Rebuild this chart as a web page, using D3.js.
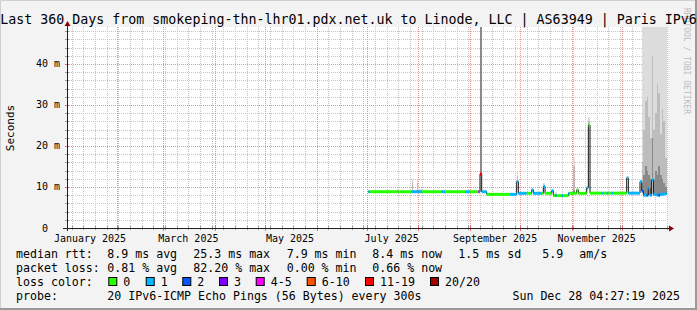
<!DOCTYPE html>
<meta charset="utf-8">
<style>
  html, body { margin: 0; padding: 0; background: #f3f3f3; overflow: hidden; }
  svg { display: block; font-family: "DejaVu Sans Mono", monospace; }
  .title { font-size: 13.3px; fill: #000; }
  .tick-label { font-size: 10px; fill: #000; }
  .legend { font-size: 11.6px; fill: #000; }
  .grid-minor { stroke: #c4c4c4; stroke-dasharray: 1,1; shape-rendering: crispEdges; }
  .grid-major { stroke: #eb9090; stroke-dasharray: 1,1; shape-rendering: crispEdges; }
  .smoke { shape-rendering: crispEdges; }
</style>
<svg></svg>
<script src="https://d3js.org/d3.v7.min.js"></script>
<script>

var W = 697, H = 310;
var plot = {left: 67, right: 667, top: 28, bottom: 228};

// one sample per breakpoint, each value holds until the next date
var sampleDates = [
  "2025-07-02","2025-07-03","2025-07-19","2025-07-20","2025-07-22","2025-07-23",
  "2025-07-28","2025-07-29","2025-07-31","2025-08-01","2025-08-03","2025-08-15",
  "2025-08-17","2025-08-29","2025-09-01","2025-09-06","2025-09-07","2025-09-08",
  "2025-09-11","2025-09-25","2025-09-29","2025-09-30","2025-10-05","2025-10-08",
  "2025-10-09","2025-10-14","2025-10-15","2025-10-16","2025-10-20","2025-10-21",
  "2025-10-22","2025-10-23","2025-10-26","2025-10-27","2025-10-30","2025-10-31",
  "2025-11-02","2025-11-03","2025-11-04","2025-11-05","2025-11-10","2025-11-11",
  "2025-11-12","2025-11-19","2025-11-20","2025-11-22","2025-11-23","2025-11-25",
  "2025-11-26","2025-12-04","2025-12-05","2025-12-12","2025-12-13","2025-12-14",
  "2025-12-15","2025-12-16","2025-12-17","2025-12-18","2025-12-19","2025-12-20",
  "2025-12-21","2025-12-22","2025-12-23","2025-12-24","2025-12-25","2025-12-26",
  "2025-12-27"
];
var dataEnd = "2025-12-28";

var medianMs = [
  8.85, 8.85, 8.85, 8.85, 8.85, 8.85,
  8.85, 8.85, 8.85, 8.85, 8.85, 8.85,
  8.85, 8.85, 8.85, 8.85, 13.2, 8.85,
  8.2, 8.2, 11.3, 8.46, 8.46, 9.3,
  8.46, 8.46, 10.1, 8.46, 9.1, 7.9,
  7.9, 7.9, 7.9, 7.9, 8.46, 8.46,
  8.46, 8.46, 9.3, 8.46, 9.8, 25.1,
  8.5, 8.5, 8.5, 8.5, 8.5, 8.5,
  8.5, 12.2, 8.5, 11.3, 9.0, 8.0,
  8.0, 8.0, 9.7, 8.0, 11.7, 8.2,
  8.2, 8.0, 8.0, 8.2, 8.2, 8.3,
  8.4
];

// index into lossColors
var lossBucket = [
  1, 0, 0, 0, 0, 0,
  1, 1, 1, 1, 0, 1,
  0, 1, 0, 4, 6, 1,
  0, 1, 1, 1, 0, 1,
  1, 0, 1, 0, 1, 0,
  1, 0, 1, 0, 1, 0,
  0, 0, 0, 0, 1, 0,
  0, 1, 0, 1, 0, 1,
  0, 1, 1, 1, 2, 1,
  1, 2, 1, 1, 1, 1,
  1, 1, 2, 1, 1, 1,
  1
];

var smokeOuterMs = [
  9.1, 9.1, 9.6, 9.1, 9.5, 9.1,
  12.0, 9.2, 11.8, 9.5, 9.1, 9.1,
  9.1, 9.1, 9.1, 9.3, 50, 9.1,
  8.4, 8.4, 13.7, 8.7, 8.7, 9.7,
  8.7, 8.7, 11.0, 8.7, 9.3, 8.1,
  8.8, 8.1, 8.8, 8.1, 8.7, 8.7,
  17.4, 8.7, 9.5, 8.7, 10.1, 27.1,
  8.7, 8.7, 8.7, 8.7, 8.7, 8.7,
  8.7, 12.8, 8.7, 11.7, 50, 50,
  50, 50, 50, 50, 50, 50,
  50, 50, 50, 50, 50, 50,
  50
];

var smokeMidMs = [
  9.0, 9.0, 9.2, 9.0, 9.1, 9.0,
  11.4, 9.0, 11.0, 9.2, 9.0, 9.0,
  9.0, 9.0, 9.0, 9.1, 50, 9.0,
  8.3, 8.3, 12.6, 8.6, 8.6, 9.5,
  8.6, 8.6, 10.5, 8.6, 9.2, 8.0,
  8.3, 8.0, 8.3, 8.0, 8.6, 8.6,
  15.0, 8.6, 9.4, 8.6, 9.9, 26.2,
  8.6, 8.6, 8.6, 8.6, 8.6, 8.6,
  8.6, 12.5, 8.6, 11.5, 16, 24,
  31, 32, 27, 22, 42, 24,
  28, 35, 33, 23, 29, 26,
  17
];

var smokeInnerMs = [
  8.85, 8.85, 8.85, 8.85, 8.85, 8.85,
  9.2, 8.85, 9.2, 8.85, 8.85, 8.85,
  8.85, 8.85, 8.85, 8.85, 50, 8.85,
  8.2, 8.2, 11.6, 8.46, 8.46, 9.3,
  8.46, 8.46, 10.1, 8.46, 9.1, 7.9,
  7.9, 7.9, 7.9, 7.9, 8.46, 8.46,
  9.2, 8.46, 9.3, 8.46, 9.8, 25.4,
  8.5, 8.5, 8.5, 8.5, 8.5, 8.5,
  8.5, 12.2, 8.5, 11.3, 11, 13,
  15, 14, 13, 12, 22, 12,
  14, 13, 15, 13, 12, 11,
  10
];

var lossLabels = ["0", "1", "2", "3", "4-5", "6-10", "11-19", "20/20"];
var lossColors = ["#26ff00", "#00b8ff", "#0059ff", "#7e00ff", "#ff00ff", "#ff5500", "#ff0000", "#a10000"];

var monthLabels = ["January 2025", "March 2025", "May 2025", "July 2025", "September 2025", "November 2025"];
var monthLabelStarts = ["2025-01-01", "2025-03-01", "2025-05-01", "2025-07-01", "2025-09-01", "2025-11-01"];
var yTickValues = [0, 10, 20, 30, 40];

var rttStats = ["8.9 ms avg", "25.3 ms max", "7.9 ms min", "8.4 ms now", "1.5 ms sd", "5.9", "am/s"];
var lossStats = ["0.81 % avg", "82.20 % max", "0.00 % min", "0.66 % now"];
var probeText = "20 IPv6-ICMP Echo Pings (56 Bytes) every 300s";
var stampText = "Sun Dec 28 04:27:19 2025";
var titleText = "Last 360 Days from smokeping-thn-lhr01.pdx.net.uk to Linode, LLC | AS63949 | Paris IPv6";

var parse = d3.timeParse("%Y-%m-%d");
var dates = sampleDates.map(parse);
var endDate = parse(dataEnd);

var x = d3.scaleTime()
    .domain([new Date(2025, 0, 2, 4, 27, 19), new Date(2025, 11, 28, 4, 27, 19)])
    .range([plot.left, plot.right]);
var y = d3.scaleLinear().domain([0, 48.78]).range([plot.bottom, plot.top]);

var svg = d3.select("svg").attr("width", W).attr("height", H);

svg.append("rect").attr("width", W).attr("height", H).attr("fill", "#f3f3f3");
svg.append("path").attr("d", "M0.5,310V0.5H697").attr("fill", "none").attr("stroke", "#d0d0d0");
svg.append("path").attr("d", "M0,309H696V0").attr("fill", "none").attr("stroke", "#9a9a9a").attr("stroke-width", 2);

svg.append("rect")
    .attr("x", plot.left).attr("y", plot.top - 1)
    .attr("width", plot.right - plot.left + 1).attr("height", plot.bottom - plot.top + 1)
    .attr("fill", "#fff");

svg.append("clipPath").attr("id", "clip")
  .append("rect")
    .attr("x", plot.left).attr("y", plot.top - 1)
    .attr("width", plot.right - plot.left).attr("height", plot.bottom - plot.top + 1);

// grid
var grid = svg.append("g");
var weeks = d3.timeSunday.range(x.domain()[0], x.domain()[1]);
var months = d3.timeMonth.range(x.domain()[0], x.domain()[1]);
grid.selectAll(".vmin").data(weeks).enter().append("line")
    .attr("class", "grid-minor")
    .attr("x1", function(d) { return Math.round(x(d)) + 0.5; })
    .attr("x2", function(d) { return Math.round(x(d)) + 0.5; })
    .attr("y1", plot.top - 1).attr("y2", plot.bottom);
grid.selectAll(".hmin").data(d3.range(2, 49, 2).filter(function(v) { return v % 10; })).enter().append("line")
    .attr("class", "grid-minor")
    .attr("x1", plot.left).attr("x2", plot.right)
    .attr("y1", function(d) { return Math.round(y(d)) + 0.5; })
    .attr("y2", function(d) { return Math.round(y(d)) + 0.5; });
grid.selectAll(".vmaj").data(months).enter().append("line")
    .attr("class", "grid-major")
    .attr("x1", function(d) { return Math.round(x(d)) + 0.5; })
    .attr("x2", function(d) { return Math.round(x(d)) + 0.5; })
    .attr("y1", plot.top - 1).attr("y2", plot.bottom);
grid.selectAll(".hmaj").data(yTickValues.slice(1)).enter().append("line")
    .attr("class", "grid-major")
    .attr("x1", plot.left).attr("x2", plot.right)
    .attr("y1", function(d) { return Math.round(y(d)) + 0.5; })
    .attr("y2", function(d) { return Math.round(y(d)) + 0.5; });

// smoke
var samples = dates.map(function(d, i) {
  return {
    x0: x(d), x1: x(i < dates.length - 1 ? dates[i + 1] : endDate),
    med: medianMs[i], loss: lossBucket[i],
    bands: [smokeOuterMs[i], smokeMidMs[i], smokeInnerMs[i]]
  };
});
var smokeColors = ["#dcdcdc", "#bdbdbd", "#8a8a8a"];
var smoke = svg.append("g").attr("clip-path", "url(#clip)");
smokeColors.forEach(function(col, b) {
  smoke.selectAll(".s" + b)
      .data(samples.filter(function(s) { return s.bands[b] > s.med; }))
    .enter().append("rect")
      .attr("class", "smoke")
      .attr("x", function(s) { return s.x0; })
      .attr("width", function(s) { return s.x1 - s.x0; })
      .attr("y", function(s) { return y(s.bands[b]); })
      .attr("height", function(s) { return y(s.med) - y(s.bands[b]) + 1; })
      .attr("fill", col);
});

// median: thin black step line, loss-coloured segments on top
var stepPts = samples.map(function(s) { return [s.x0, y(s.med)]; });
stepPts.push([samples[samples.length - 1].x1, y(medianMs[medianMs.length - 1])]);
svg.append("path")
    .attr("d", d3.line().curve(d3.curveStepAfter)(stepPts))
    .attr("fill", "none").attr("stroke", "#111").attr("stroke-width", 1);
svg.append("g").selectAll("line").data(samples).enter().append("line")
    .attr("x1", function(s) { return s.x0; })
    .attr("x2", function(s) { return s.x1; })
    .attr("y1", function(s) { return y(s.med); })
    .attr("y2", function(s) { return y(s.med); })
    .attr("stroke", function(s) { return lossColors[s.loss]; })
    .attr("stroke-width", 3);

// axes
var axis = svg.append("g");
axis.selectAll(".xt").data(weeks).enter().append("line")
    .attr("x1", function(d) { return Math.round(x(d)) + 0.5; })
    .attr("x2", function(d) { return Math.round(x(d)) + 0.5; })
    .attr("y1", plot.bottom - 2).attr("y2", plot.bottom + 2)
    .attr("stroke", "#9a9a9a");
axis.selectAll(".xm").data(months).enter().append("line")
    .attr("x1", function(d) { return Math.round(x(d)) + 0.5; })
    .attr("x2", function(d) { return Math.round(x(d)) + 0.5; })
    .attr("y1", plot.bottom - 3).attr("y2", plot.bottom + 3)
    .attr("stroke", "#e07070");
axis.selectAll(".yt").data(d3.range(2, 49, 2)).enter().append("line")
    .attr("x1", plot.left - 2).attr("x2", plot.left + 2)
    .attr("y1", function(d) { return Math.round(y(d)) + 0.5; })
    .attr("y2", function(d) { return Math.round(y(d)) + 0.5; })
    .attr("stroke", function(d) { return d % 10 ? "#9a9a9a" : "#e07070"; });
axis.append("line")
    .attr("x1", plot.left - 4).attr("x2", plot.right + 3)
    .attr("y1", plot.bottom + 0.5).attr("y2", plot.bottom + 0.5)
    .attr("stroke", "#222");
axis.append("line")
    .attr("x1", plot.left + 0.5).attr("x2", plot.left + 0.5)
    .attr("y1", plot.top - 3).attr("y2", plot.bottom + 3)
    .attr("stroke", "#222");
axis.append("path")
    .attr("d", "M" + (plot.left - 2.5) + "," + (plot.top - 2) + "L" + (plot.left + 0.5) + "," + (plot.top - 7) +
               "L" + (plot.left + 3.5) + "," + (plot.top - 2) + "Z")
    .attr("fill", "#8b0000");
axis.append("path")
    .attr("d", "M" + (plot.right + 2) + "," + (plot.bottom - 2.5) + "L" + (plot.right + 7) + "," + (plot.bottom + 0.5) +
               "L" + (plot.right + 2) + "," + (plot.bottom + 3.5) + "Z")
    .attr("fill", "#8b0000");

// tick labels
svg.selectAll(".ylab").data(yTickValues).enter().append("text")
    .attr("class", "tick-label")
    .attr("x", function(d) { return d ? 60 : 48; })
    .attr("y", function(d) { return y(d) + 3.5; })
    .attr("text-anchor", "end")
    .text(function(d) { return d ? d + " m" : "0"; });
svg.selectAll(".xlab").data(monthLabels).enter().append("text")
    .attr("class", "tick-label")
    .attr("x", function(d, i) { return x(d3.timeDay.offset(parse(monthLabelStarts[i]), 15)); })
    .attr("y", 241.5)
    .attr("text-anchor", "middle")
    .text(function(d) { return d; });

svg.append("text")
    .attr("transform", "translate(14,128) rotate(-90)")
    .attr("text-anchor", "middle")
    .style("font-size", "11px")
    .text("Seconds");

svg.append("text")
    .attr("transform", "translate(683.5,8) rotate(90)")
    .style("font-size", "8px").style("fill", "#bdbdbd")
    .text("RRDTOOL / TOBI OETIKER");

svg.append("text").attr("class", "title")
    .attr("x", W / 2).attr("y", 23.5)
    .attr("text-anchor", "middle")
    .text(titleText);

// legend
var legendX = [107.3, 193.3, 286.7, 372.3, 458.3, 542.3, 579.3];
var lg = svg.append("g").attr("class", "legend");
lg.append("text").attr("x", 16).attr("y", 258).text("median rtt:");
lg.selectAll(".rtt").data(rttStats).enter().append("text")
    .attr("x", function(d, i) { return legendX[i]; }).attr("y", 258).text(function(d) { return d; });
lg.append("text").attr("x", 16).attr("y", 272).text("packet loss:");
lg.selectAll(".pl").data(lossStats).enter().append("text")
    .attr("x", function(d, i) { return legendX[i]; }).attr("y", 272).text(function(d) { return d; });
lg.append("text").attr("x", 16).attr("y", 286).text("loss color:");
var boxX = [108.3, 145.7, 182.3, 219, 255.7, 306.7, 365, 430];
lg.selectAll(".lb").data(lossColors).enter().append("rect")
    .attr("x", function(d, i) { return boxX[i] + 0.5; }).attr("y", 277.5)
    .attr("width", 8).attr("height", 8)
    .attr("fill", function(d) { return d; })
    .attr("stroke", "#000");
lg.selectAll(".ll").data(lossLabels).enter().append("text")
    .attr("x", function(d, i) { return boxX[i] + 15; }).attr("y", 286)
    .text(function(d) { return d; });
lg.append("text").attr("x", 16).attr("y", 300).text("probe:");
lg.append("text").attr("x", 107.3).attr("y", 300).text(probeText);
lg.append("text").attr("x", 680).attr("y", 300).attr("text-anchor", "end").text(stampText);

</script>
